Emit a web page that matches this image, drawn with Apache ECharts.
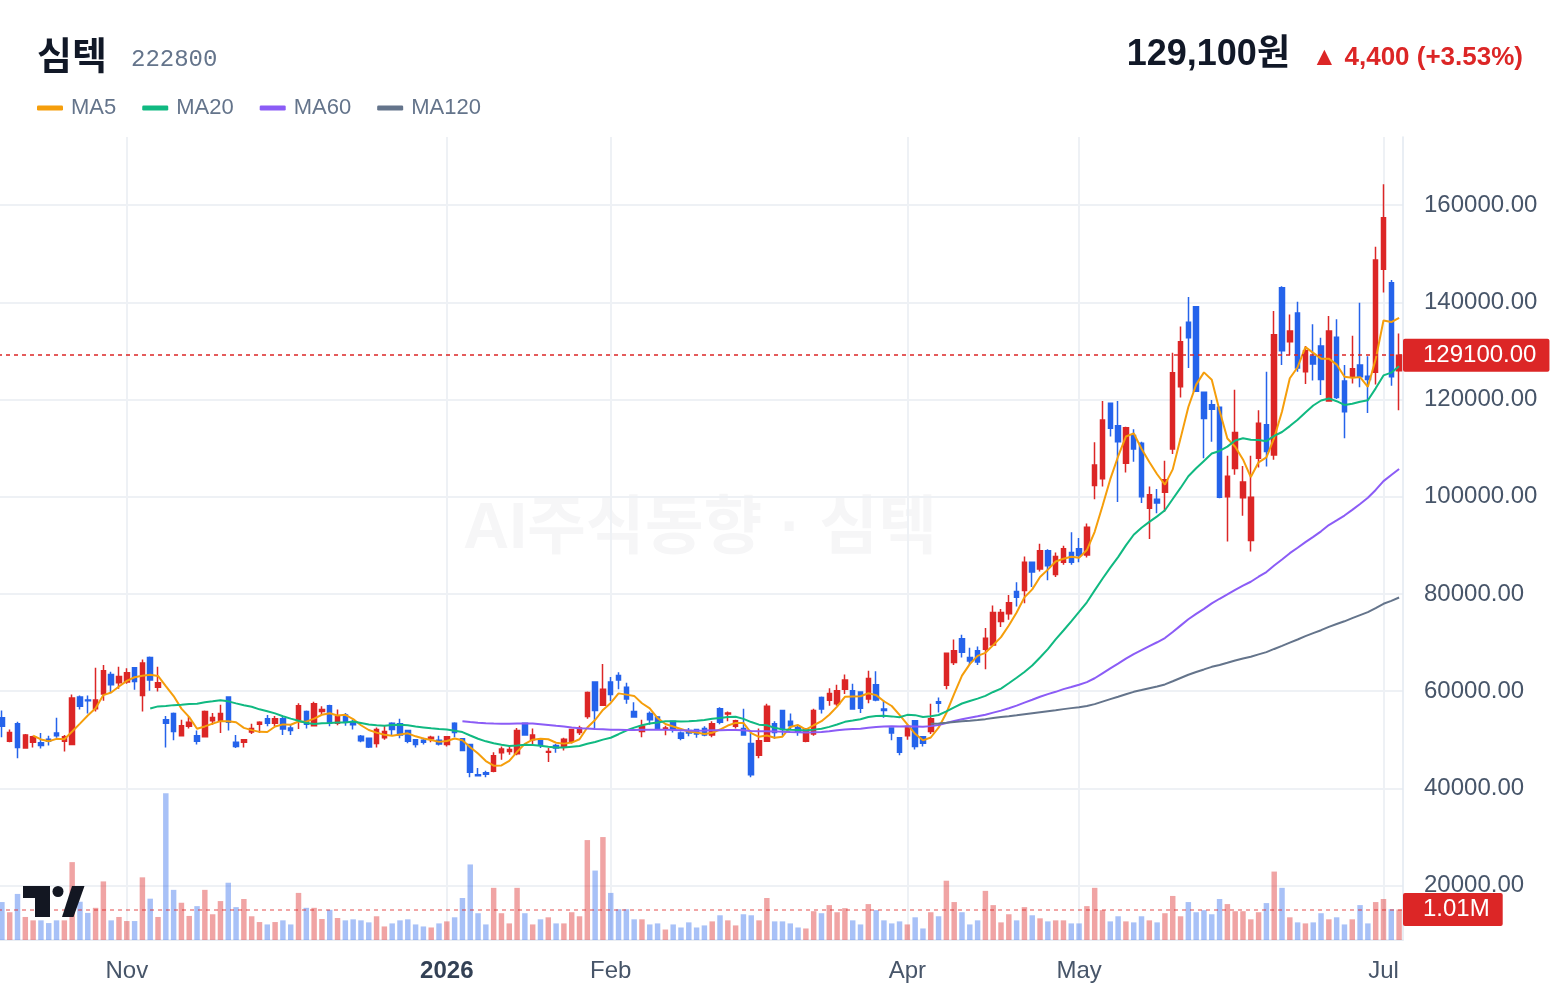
<!DOCTYPE html>
<html>
<head>
<meta charset="UTF-8">
<title>심텍 222800</title>
<script src="https://cdn.jsdelivr.net/npm/echarts@6.0.0/dist/echarts.min.js"></script>
<style>
html,body{margin:0;padding:0;background:#fff;}
#chart{width:1560px;height:996px;}
</style>
</head>
<body>
<div id="chart"></div>
<script>
// 일봉 (원) - 그림에서 읽은 값
var opens = [54500,49700,53300,48300,49500,49400,50100,51400,49700,49000,
 58800,58200,56400,59400,63400,61700,61900,64800,59100,66900,
 60800,54100,55400,50800,52800,50800,50600,53900,53800,58800,
 49500,49500,51600,53200,54300,53400,54300,52400,54100,55800,
 52900,55800,57000,53400,55100,53500,50700,50300,49200,50400,
 53400,53300,51900,50000,49900,50200,49900,49000,53400,50200,
 49000,42800,43200,43500,47300,47600,47100,53400,50000,50100,
 47400,48800,48600,49700,51500,54800,61900,57100,61900,63200,
 60800,55800,51700,55400,54700,52200,53800,51400,51900,52100,
 52300,51000,56400,55300,52800,52300,49200,46800,49700,53300,
 56000,53800,52500,49700,51200,58700,58100,57400,60400,60100,
 59800,58400,61300,56300,52400,50400,50800,53900,50600,51700,
 57800,61200,65900,70800,66900,68300,68600,69500,74300,75900,
 80500,80700,86500,85100,88900,84000,86500,88500,89300,88000,
 102300,103700,119200,114600,106900,112600,111000,97600,99500,100900,
 109800,122600,135900,139100,121500,118900,118400,100000,105800,99800,
 91000,107900,114800,108600,143000,131900,137800,125700,128900,131000,
 119700,132800,123800,124700,127100,124800,125600,146800,144000,125900];
var highs = [56000,52100,53700,51200,50800,51400,50800,54500,51000,59300,
 59100,59100,64800,65400,64000,65000,64700,64800,66500,67100,
 65000,54900,55600,54100,54800,51900,56000,55500,57200,58900,
 51000,50000,53300,53800,55100,54900,54800,53100,57500,56000,
 57800,56900,57200,56200,55500,54100,51000,50400,52500,52900,
 53600,54300,51900,50000,50400,50800,50800,50600,53600,50200,
 49000,44200,43600,47400,48600,48800,52400,53400,52300,50100,
 48300,49100,50400,52100,52900,59900,61900,65600,62900,63900,
 61700,57700,54100,55800,54900,52900,53900,51700,52400,52200,
 52800,53800,56700,55800,54100,56400,51400,52300,57400,53800,
 56000,55400,53100,52400,56400,58900,60600,61300,63400,61500,
 59800,64200,64100,58200,52400,50400,53100,53900,50700,57400,
 58700,67800,70600,71600,68900,69200,73000,77600,76900,79800,
 82400,87700,86500,90300,89200,88500,89900,92700,91500,94500,
 111200,119700,119200,119700,114400,113900,111300,102100,101600,107400,
 129600,135000,141100,139100,121500,119900,118400,108400,122000,106300,
 108400,117800,125700,138200,143300,137500,140100,131000,135500,132700,
 137200,136500,127100,133100,139900,128900,151400,164300,144600,133600];
var lows = [50500,49500,46200,48200,48400,48200,48800,50400,47600,48900,
 56200,55400,55800,58000,59700,60500,61500,60300,55800,60100,
 59900,48400,49900,50700,52300,49000,50500,53100,51400,51900,
 48300,48400,51200,51400,52800,52800,51000,51000,52200,52300,
 52800,55100,52800,53000,52900,52100,49500,48300,48400,50000,
 50800,50300,49300,48400,49000,49500,48800,48600,50500,47700,
 42300,42500,42300,43300,45900,46900,46800,50900,49000,48300,
 45400,47300,47800,49200,51000,54300,52300,57100,57900,60400,
 57400,54500,50500,53100,52100,50900,51500,49900,50700,50400,
 50700,50500,53200,53800,52300,50900,42300,46200,49700,50200,
 50800,52100,50800,49500,50800,55400,57000,57000,59400,56200,
 55500,57500,57900,54500,49900,46800,50000,48000,48600,51200,
 55600,60400,65400,66900,65400,65400,64500,69300,73200,74700,
 77400,78100,81400,84600,82800,83500,86000,86000,86500,87500,
 99500,102100,112400,98900,105000,107200,98700,91300,96600,96900,
 108800,120400,126500,121600,107900,111300,99700,90800,104500,96100,
 88700,106000,106200,107600,127100,129100,125700,123200,123900,120900,
 119600,120100,112000,123300,122500,117200,123100,142000,122800,117800];
var closes = [52800,51500,48400,51000,50600,48800,49700,50800,50600,58600,
 56900,58000,58200,64200,61300,63000,63800,62000,65800,62300,
 61700,53400,51700,52900,53600,49700,55800,54600,55400,53600,
 48600,50000,52300,53600,53400,54300,52200,51900,57000,53200,
 57400,56200,53400,54800,53800,53100,49800,48500,52100,51700,
 52100,51000,49700,49000,49500,50500,49100,50600,51500,47800,
 43300,42600,42900,46700,48100,48000,51900,51000,51000,49000,
 47600,48300,50100,52100,52400,59700,56000,60400,59300,62300,
 58400,54700,52800,54100,52200,52400,52100,50300,51400,51200,
 51000,53300,53600,55500,53900,51000,42800,49800,56900,51500,
 52100,52900,51700,52200,56000,56300,59500,60100,62300,56300,
 56500,62600,58200,56000,51400,47400,52700,48600,49300,54300,
 57500,67800,68300,68000,66200,66000,70900,76200,76200,78200,
 79300,86500,84500,88900,85800,87700,89300,86500,87900,93700,
 106500,115800,114100,111300,114200,109800,100000,100400,98700,103500,
 125500,131900,132700,121700,116100,118000,99900,104200,113200,103000,
 99900,115100,109300,133300,130000,134100,126500,130000,127300,124100,
 134100,120400,117500,126300,124700,124100,148700,157400,124700,129100];
// 거래량 (주)
var volumes = [1257000,920000,1526000,763000,651000,651000,561000,651000,651000,2580000,
 1268000,898000,1066000,1941000,651000,763000,628000,628000,2076000,1369000,
 763000,4859000,1661000,1234000,797000,1122000,1661000,853000,1290000,1897000,
 1089000,1358000,786000,595000,516000,595000,651000,516000,1560000,1066000,
 1066000,696000,999000,729000,651000,685000,651000,584000,786000,449000,
 550000,651000,685000,516000,449000,415000,550000,617000,752000,1392000,
 2503000,887000,516000,1728000,887000,550000,1728000,887000,516000,685000,
 752000,550000,550000,920000,786000,3310000,2300000,3410000,1560000,1020000,
 1020000,685000,685000,516000,550000,348000,516000,415000,584000,415000,
 483000,617000,819000,651000,483000,853000,819000,651000,1392000,617000,
 617000,550000,415000,382000,954000,887000,1156000,920000,1055000,651000,
 516000,1190000,988000,651000,550000,617000,516000,752000,382000,920000,
 786000,1964000,1257000,920000,516000,651000,1627000,1156000,584000,853000,
 651000,1089000,819000,718000,617000,651000,651000,550000,550000,1122000,
 1728000,988000,617000,786000,617000,584000,786000,651000,584000,887000,
 1459000,786000,1257000,920000,988000,853000,1358000,1190000,954000,954000,
 685000,920000,1223000,2267000,1728000,752000,584000,550000,584000,887000,
 685000,752000,516000,685000,1156000,550000,1257000,1358000,1021000,1010000];
// x축 눈금 (봉 위치, 글자)
var tickIndex = [16, 57, 78, 116, 138, 177];
var tickText = ['Nov', '2026', 'Feb', 'Apr', 'May', 'Jul'];
var maPeriods = [5, 20, 60, 120];
var maColors = ['#f59e0b', '#10b981', '#8b5cf6', '#64748b'];

var UP = '#dc2626', DOWN = '#2563eb';
var FONT = "'Liberation Sans', Arial, 'Noto Sans CJK KR', sans-serif";

function calcMA(n) {
    var out = [];
    for (var i = 0; i < closes.length; i++) {
        if (i < n - 1) { out.push('-'); continue; }
        var s = 0;
        for (var j = 0; j < n; j++) s += closes[i - j];
        out.push(Math.round(s / n));
    }
    return out;
}

var categories = closes.map(function (c, i) { return 'd' + i; });
var kData = closes.map(function (c, i) { return [opens[i], c, lows[i], highs[i]]; });
var volData = volumes.map(function (v, i) {
    return { value: v, itemStyle: { color: closes[i] >= opens[i] ? 'rgba(220,38,38,0.42)' : 'rgba(37,99,235,0.4)' } };
});

var last = closes.length - 1;
var lastClose = closes[last];
var diff = lastClose - closes[last - 1];
var pct = diff / closes[last - 1] * 100;
var lastVol = volumes[last];

function fmtNum(n) { return n.toString().replace(/\B(?=(\d{3})+(?!\d))/g, ','); }

var myChart = echarts.init(document.getElementById('chart'));

var series = [{
    name: '거래량',
    type: 'bar',
    xAxisIndex: 0,
    yAxisIndex: 1,
    z: 1,
    barWidth: '70%',
    data: volData,
    markLine: {
        silent: true,
        symbol: ['none', 'none'],
        z: 5,
        data: [{
            yAxis: lastVol,
            lineStyle: { color: 'rgba(220,38,38,0.55)', type: [4, 4], width: 1.5 },
            label: {
                show: true, position: 'end', distance: 0,
                formatter: (lastVol / 1e6).toFixed(2) + 'M',
                color: '#fff', backgroundColor: UP, borderRadius: 2,
                padding: [5, 13, 4, 20], fontSize: 24, fontFamily: FONT
            }
        }]
    }
}, {
    name: '심텍',
    type: 'candlestick',
    z: 2,
    barWidth: 5,
    data: kData,
    itemStyle: {
        color: UP, color0: DOWN,
        borderColor: UP, borderColor0: DOWN,
        borderWidth: 1.5
    },
    markLine: {
        silent: true,
        symbol: ['none', 'none'],
        z: 5,
        data: [{
            yAxis: lastClose,
            lineStyle: { color: UP, type: [4, 4], width: 1.5 },
            label: {
                show: true, position: 'end', distance: 0,
                formatter: lastClose.toFixed(2),
                color: '#fff', backgroundColor: UP, borderRadius: 2,
                padding: [5, 13, 4, 20], fontSize: 24, fontFamily: FONT
            }
        }]
    }
}];

maPeriods.forEach(function (n, k) {
    var s = {
        name: 'MA' + n,
        type: 'line',
        z: 3,
        data: calcMA(n),
        showSymbol: false,
        smooth: false,
        lineStyle: { width: 2, color: maColors[k] },
        itemStyle: { color: maColors[k] }
    };
    if (k === 0) {
        // 월 경계 세로선
        s.markLine = {
            silent: true,
            symbol: ['none', 'none'],
            z: 0,
            label: { show: false },
            lineStyle: { color: '#eef1f5', type: 'solid', width: 2 },
            data: tickIndex.map(function (i) { return { xAxis: i }; })
        };
    }
    series.push(s);
});

var option = {
    animation: false,
    backgroundColor: '#fff',
    textStyle: { fontFamily: FONT },
    legend: {
        data: maPeriods.map(function (n) { return 'MA' + n; }),
        left: 37,
        top: 97,
        padding: 0,
        icon: 'roundRect',
        itemWidth: 26,
        itemHeight: 5,
        itemGap: 26,
        selectedMode: false,
        textStyle: { color: '#64748b', fontSize: 22, fontFamily: FONT, padding: [0, 0, 0, 3] }
    },
    grid: {
        left: -2, right: 157, top: 137, bottom: 56,
        outerBoundsMode: 'none'
    },
    xAxis: [{
        type: 'category',
        data: categories,
        boundaryGap: true,
        axisLine: { lineStyle: { color: '#e2e8f0', width: 1.5 } },
        axisTick: { show: false },
        splitLine: { show: false },
        axisLabel: {
            margin: 19,
            color: '#475569',
            fontSize: 24,
            fontFamily: FONT,
            interval: function (i) { return tickIndex.indexOf(i) >= 0; },
            formatter: function (v, i) {
                var k = tickIndex.indexOf(i);
                if (k < 0) return '';
                return /^\d{4}$/.test(tickText[k]) ? '{b|' + tickText[k] + '}' : tickText[k];
            },
            rich: { b: { fontWeight: 'bold', color: '#334155', fontSize: 24, fontFamily: FONT } }
        }
    }],
    yAxis: [{
        type: 'value',
        position: 'right',
        min: 8800,
        max: 174000,
        splitNumber: 8,
        minInterval: 20000,
        maxInterval: 20000,
        axisLine: { show: true, lineStyle: { color: '#e2e8f0', width: 1.5 } },
        axisTick: { show: false },
        axisLabel: {
            showMinLabel: false, showMaxLabel: false,
            margin: 21, color: '#475569', fontSize: 24, fontFamily: FONT,
            formatter: function (v) { return v % 20000 === 0 ? v.toFixed(2) : ''; }
        },
        splitLine: { showMinLine: false, showMaxLine: false, lineStyle: { color: '#eef1f5', width: 2 } }
    }, {
        type: 'value',
        min: 0,
        max: 26600000,
        show: false,
        splitLine: { show: false }
    }],
    graphic: [
        { type: 'text', x: 700, y: 530, z: 0, silent: true,
          style: { text: 'AI주식동향 · 심텍', align: 'center', verticalAlign: 'middle',
                   font: "bold 64px 'Liberation Sans', 'Noto Sans CJK KR', sans-serif", fill: 'rgba(15,23,42,0.04)' } },
        { type: 'text', x: 37, y: 55,
          style: { text: '심텍', verticalAlign: 'middle',
                   font: "bold 38px 'Noto Sans CJK KR', sans-serif", fill: '#111827' } },
        { type: 'text', x: 131, y: 60,
          style: { text: '222800', verticalAlign: 'middle',
                   font: "24px 'Liberation Mono', 'DejaVu Sans Mono', monospace", fill: '#64748b' } },
        { type: 'text', x: 1290, y: 55,
          style: { text: fmtNum(lastClose) + '원', align: 'right', verticalAlign: 'middle',
                   font: "bold 36px 'Liberation Sans', 'Noto Sans CJK KR', sans-serif", fill: '#111827' } },
        { type: 'text', x: 1523, y: 58,
          style: { text: (diff >= 0 ? '▲ ' : '▼ ') + fmtNum(Math.abs(diff)) + ' (' + (diff >= 0 ? '+' : '') + pct.toFixed(2) + '%)',
                   align: 'right', verticalAlign: 'middle',
                   font: "bold 26px 'Liberation Sans', 'Noto Sans CJK KR', sans-serif", fill: UP } },
        // TradingView 로고
        { type: 'polygon', z: 100, shape: { points: [[23, 886], [50, 886], [50, 917], [35, 917], [35, 898], [23, 898]] }, style: { fill: '#131722' } },
        { type: 'circle', z: 100, shape: { cx: 58, cy: 891.5, r: 5.5 }, style: { fill: '#131722' } },
        { type: 'polygon', z: 100, shape: { points: [[62, 917], [73.5, 917], [84.5, 886], [72, 886]] }, style: { fill: '#131722' } }
    ],
    series: series
};

myChart.setOption(option);
</script>
</body>
</html>
